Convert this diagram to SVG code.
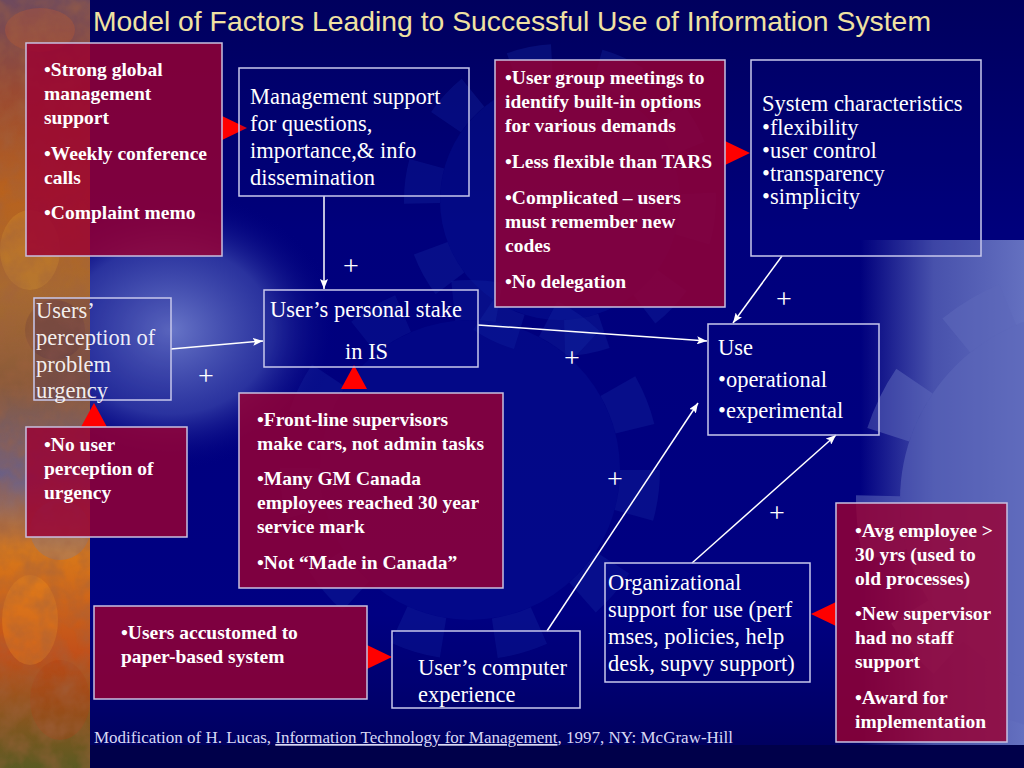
<svg xmlns="http://www.w3.org/2000/svg" width="1024" height="768" viewBox="0 0 1024 768">
<defs>
  <linearGradient id="bg" x1="0" y1="0" x2="0" y2="1">
    <stop offset="0" stop-color="#00005E"/>
    <stop offset="0.3" stop-color="#00007C"/>
    <stop offset="0.8" stop-color="#000082"/>
    <stop offset="0.97" stop-color="#000060"/>
    <stop offset="1" stop-color="#00004A"/>
  </linearGradient>
  <linearGradient id="strip" x1="0" y1="0" x2="0" y2="1">
    <stop offset="0" stop-color="#6E4A5E"/>
    <stop offset="0.12" stop-color="#9A4A32"/>
    <stop offset="0.25" stop-color="#B8621E"/>
    <stop offset="0.38" stop-color="#A86A30"/>
    <stop offset="0.5" stop-color="#8A5A3A"/>
    <stop offset="0.62" stop-color="#6A6088"/>
    <stop offset="0.72" stop-color="#D8781A"/>
    <stop offset="0.85" stop-color="#C2501A"/>
    <stop offset="1" stop-color="#5A5A22"/>
  </linearGradient>
  <radialGradient id="glowL" cx="0.5" cy="0.5" r="0.5">
    <stop offset="0" stop-color="#6E7CCC" stop-opacity="0.95"/>
    <stop offset="0.6" stop-color="#4654B4" stop-opacity="0.6"/>
    <stop offset="1" stop-color="#000080" stop-opacity="0"/>
  </radialGradient>
  <linearGradient id="glowR" x1="0" y1="0" x2="1" y2="0">
    <stop offset="0" stop-color="#5A66B8" stop-opacity="0"/>
    <stop offset="0.45" stop-color="#5A66B8" stop-opacity="0.8"/>
    <stop offset="1" stop-color="#6470C0" stop-opacity="1"/>
  </linearGradient>
  <filter id="mottle" x="0" y="0" width="1" height="1">
    <feTurbulence type="fractalNoise" baseFrequency="0.05" numOctaves="3" seed="7" result="n"/>
    <feColorMatrix in="n" type="matrix" values="0 0 0 0 0.35  0 0 0 0 0.12  0 0 0 0 0.05  0 0 0 -1.6 1.1"/>
    <feComposite in2="SourceGraphic" operator="in"/>
  </filter>
  <marker id="arr" viewBox="0 0 10 8" refX="10" refY="4" markerWidth="10" markerHeight="8" markerUnits="userSpaceOnUse" orient="auto">
    <path d="M0,0 L10,4 L0,8 L2,4 z" fill="#FFFFFF"/>
  </marker>
  <style>
    .red{fill:#9A0032;fill-opacity:0.82;stroke:#C8C0E0;stroke-width:1.5}
    .blue{fill:#000080;fill-opacity:0.15;stroke:#C8C8EC;stroke-width:1.5}
    .rt{font-family:"Liberation Serif","Times New Roman",serif;font-weight:bold;font-size:19.5px;fill:#FFFFFF}
    .bt{font-family:"Liberation Serif","Times New Roman",serif;font-size:22.5px;fill:#FFFFFF}
    .plus{font-family:"Liberation Serif","Times New Roman",serif;font-size:28px;fill:#FFFFFF;text-anchor:middle}
    .con{stroke:#FFFFFF;stroke-width:1.5;fill:none}
    .tri{fill:#FF0000}
    .gear{fill:none;stroke:#1428A0;stroke-opacity:0.35}
  </style>
</defs>

<!-- background -->
<rect x="0" y="0" width="1024" height="768" fill="url(#bg)"/>
<g id="bg-gears">
  <circle cx="560" cy="200" r="120" fill="#0A1A9A" fill-opacity="0.35"/>
  <circle cx="560" cy="200" r="138" class="gear" stroke-width="36" stroke-dasharray="40 46"/>
  <circle cx="470" cy="470" r="150" fill="#0A1A9A" fill-opacity="0.3"/>
  <circle cx="470" cy="470" r="170" class="gear" stroke-width="40" stroke-dasharray="46 52"/>
  <ellipse cx="170" cy="330" rx="170" ry="140" fill="url(#glowL)"/>
  <rect x="860" y="240" width="164" height="505" fill="url(#glowR)"/>
  <circle cx="1090" cy="500" r="190" fill="#5C68BA" fill-opacity="0.55"/>
  <circle cx="1090" cy="500" r="212" fill="none" stroke="#5C68BA" stroke-opacity="0.55" stroke-width="44" stroke-dasharray="60 62"/>
  <rect x="0" y="745" width="1024" height="23" fill="#00004A"/>
</g>
<g id="left-strip">
  <rect x="0" y="0" width="90" height="768" fill="url(#strip)"/>
  <ellipse cx="40" cy="30" rx="35" ry="22" fill="#C05A30" fill-opacity="0.35"/>
  <ellipse cx="30" cy="250" rx="30" ry="40" fill="#E0A030" fill-opacity="0.25"/>
  <ellipse cx="55" cy="330" rx="30" ry="30" fill="#6A3A3A" fill-opacity="0.3"/>
  <ellipse cx="60" cy="530" rx="30" ry="30" fill="#7080B0" fill-opacity="0.3"/>
  <ellipse cx="30" cy="620" rx="28" ry="45" fill="#F09020" fill-opacity="0.35"/>
  <ellipse cx="60" cy="700" rx="30" ry="40" fill="#B03A10" fill-opacity="0.3"/>
  <rect x="0" y="0" width="90" height="768" fill="#000000" filter="url(#mottle)" opacity="0.6"/>
</g>

<text id="title" x="93" y="31" font-family="'Liberation Sans',Arial,sans-serif" font-size="28" textLength="838" lengthAdjust="spacingAndGlyphs" fill="#F0E2A2">Model of Factors Leading to Successful Use of Information System</text>

<g id="connectors">
  <line class="con" x1="324" y1="196" x2="324" y2="289" marker-end="url(#arr)"/>
  <line class="con" x1="171" y1="349" x2="263" y2="341" marker-end="url(#arr)"/>
  <line class="con" x1="478" y1="325" x2="707" y2="341" marker-end="url(#arr)"/>
  <line class="con" x1="782" y1="256" x2="733" y2="323" marker-end="url(#arr)"/>
  <line class="con" x1="547" y1="631" x2="698" y2="403" marker-end="url(#arr)"/>
  <line class="con" x1="692" y1="563" x2="836" y2="435" marker-end="url(#arr)"/>
  <polygon class="tri" points="222,116 247,128 222,140"/>
  <polygon class="tri" points="725,141 750,153 725,165"/>
  <polygon class="tri" points="341,389 354,365 367,389"/>
  <polygon class="tri" points="81,427 94,403 107,427"/>
  <polygon class="tri" points="367,645 392,657 367,669"/>
  <polygon class="tri" points="836,602 811,614 836,626"/>
  <text class="plus" x="351" y="275">+</text>
  <text class="plus" x="206" y="385">+</text>
  <text class="plus" x="572" y="367">+</text>
  <text class="plus" x="784" y="308">+</text>
  <text class="plus" x="615" y="488">+</text>
  <text class="plus" x="777" y="522">+</text>
</g>

<g id="n-strong-mgmt">
  <rect class="red" x="26" y="43" width="196" height="213"/>
  <text class="rt"><tspan x="44" y="76">•Strong global</tspan><tspan x="44" y="100">management</tspan><tspan x="44" y="124">support</tspan><tspan x="44" y="160">•Weekly conference</tspan><tspan x="44" y="184">calls</tspan><tspan x="44" y="219">•Complaint memo</tspan></text>
</g>

<g id="n-mgmt-support">
  <rect class="blue" x="239" y="68" width="230" height="128"/>
  <text class="bt"><tspan x="250" y="104">Management support</tspan><tspan x="250" y="131">for questions,</tspan><tspan x="250" y="158">importance,&amp; info</tspan><tspan x="250" y="185">dissemination</tspan></text>
</g>

<g id="n-user-group">
  <rect class="red" x="495" y="60" width="230" height="247"/>
  <text class="rt"><tspan x="505" y="84">•User group meetings to</tspan><tspan x="505" y="108">identify built-in options</tspan><tspan x="505" y="132">for various demands</tspan><tspan x="505" y="168">•Less flexible than TARS</tspan><tspan x="505" y="204">•Complicated – users</tspan><tspan x="505" y="228">must remember new</tspan><tspan x="505" y="252">codes</tspan><tspan x="505" y="288">•No delegation</tspan></text>
</g>

<g id="n-system">
  <rect class="blue" x="751" y="60" width="230" height="196"/>
  <text class="bt" font-size="21.5"><tspan x="762" y="111">System characteristics</tspan><tspan x="762" y="135">•flexibility</tspan><tspan x="762" y="158">•user control</tspan><tspan x="762" y="181">•transparency</tspan><tspan x="762" y="204">•simplicity</tspan></text>
</g>

<g id="n-perception">
  <rect class="blue" x="34" y="298" width="137" height="102" fill-opacity="0"/>
  <text class="bt" fill-opacity="0.92"><tspan x="36" y="318">Users’</tspan><tspan x="36" y="345">perception of</tspan><tspan x="36" y="372">problem</tspan><tspan x="36" y="398">urgency</tspan></text>
</g>

<g id="n-stake">
  <rect class="blue" x="264" y="290" width="214" height="77"/>
  <text class="bt"><tspan x="270" y="317">User’s personal stake</tspan><tspan x="345" y="359">in IS</tspan></text>
</g>

<g id="n-use">
  <rect class="blue" x="708" y="324" width="171" height="111"/>
  <text class="bt" font-size="26"><tspan x="718" y="355">Use</tspan><tspan x="718" y="387">•operational</tspan><tspan x="718" y="418">•experimental</tspan></text>
</g>

<g id="n-no-user">
  <rect class="red" x="26" y="427" width="161" height="110"/>
  <text class="rt"><tspan x="44" y="451">•No user</tspan><tspan x="44" y="475">perception of</tspan><tspan x="44" y="499">urgency</tspan></text>
</g>

<g id="n-front-line">
  <rect class="red" x="239" y="393" width="264" height="195"/>
  <text class="rt"><tspan x="257" y="426">•Front-line supervisors</tspan><tspan x="257" y="450">make cars, not admin tasks</tspan><tspan x="257" y="485">•Many GM Canada</tspan><tspan x="257" y="509">employees reached 30 year</tspan><tspan x="257" y="533">service mark</tspan><tspan x="257" y="569">•Not “Made in Canada”</tspan></text>
</g>

<g id="n-accustomed">
  <rect class="red" x="94" y="606" width="273" height="93"/>
  <text class="rt"><tspan x="121" y="639">•Users accustomed to</tspan><tspan x="121" y="663">paper-based system</tspan></text>
</g>

<g id="n-computer">
  <rect class="blue" x="392" y="631" width="188" height="77"/>
  <text class="bt"><tspan x="418" y="675">User’s computer</tspan><tspan x="418" y="702">experience</tspan></text>
</g>

<g id="n-org-support">
  <rect class="blue" x="605" y="563" width="205" height="119"/>
  <text class="bt"><tspan x="608" y="590">Organizational</tspan><tspan x="608" y="617">support for use (perf</tspan><tspan x="608" y="644">mses, policies, help</tspan><tspan x="608" y="671">desk, supvy support)</tspan></text>
</g>

<g id="n-avg-employee">
  <rect class="red" x="836" y="503" width="171" height="239"/>
  <text class="rt"><tspan x="855" y="537">•Avg employee &gt;</tspan><tspan x="855" y="561">30 yrs (used to</tspan><tspan x="855" y="585">old processes)</tspan><tspan x="855" y="620">•New supervisor</tspan><tspan x="855" y="644">had no staff</tspan><tspan x="855" y="668">support</tspan><tspan x="855" y="704">•Award for</tspan><tspan x="855" y="728">implementation</tspan></text>
</g>

<text id="footer" x="94" y="743" font-family="'Liberation Serif','Times New Roman',serif" font-size="17" fill="#D8D8F4">Modification of H. Lucas, <tspan text-decoration="underline">Information Technology for Management</tspan>, 1997, NY: McGraw-Hill</text>
</svg>
